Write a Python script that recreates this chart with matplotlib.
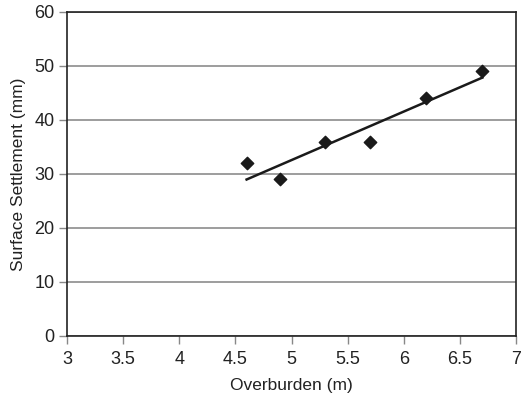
import matplotlib
matplotlib.use("Agg")
import matplotlib.pyplot as plt
import numpy as np

overburden = [4.6, 4.9, 5.3, 5.7, 6.2, 6.7]
settlement = [32, 29, 36, 36, 44, 49]
xticks = [3, 3.5, 4, 4.5, 5, 5.5, 6, 6.5, 7]
yticks = [0, 10, 20, 30, 40, 50, 60]

plt.rcParams['font.family'] = ['Liberation Sans', 'DejaVu Sans']

fig = plt.figure(figsize=(5.23, 3.97), dpi=100)
ax = fig.add_axes([67/523, 1-336/397, (516-67)/523, (336-12)/397])

ax.set_xlim(3, 7)
ax.set_ylim(0, 60)
ax.set_xticks(xticks)
ax.set_xticklabels([f"{t:g}" for t in xticks])
ax.set_yticks(yticks)

ax.yaxis.grid(True, color='#8c8c8c', linewidth=1.2)
ax.set_axisbelow(True)

ax.scatter(overburden, settlement, marker='D', s=40, color='#1a1a1a', zorder=3)
coef = np.polyfit(overburden, settlement, 1)
xs = np.array([min(overburden), max(overburden)])
ax.plot(xs, np.polyval(coef, xs), color='#1a1a1a', linewidth=1.8, zorder=4)

for s in ax.spines.values():
    s.set_color('#222222')
    s.set_linewidth(1.2)

ax.tick_params(axis='both', direction='out', length=6, width=1, color='#888888',
               labelsize=13, labelcolor='#222222')
ax.tick_params(axis='x', pad=5)
ax.tick_params(axis='y', pad=3)
ax.set_xlabel('Overburden (m)', fontsize=12.5, color='#222222', labelpad=7)
ax.set_ylabel('Surface Settlement (mm)', fontsize=12.5, color='#222222', labelpad=6)

fig.savefig('out.png', dpi=100)
